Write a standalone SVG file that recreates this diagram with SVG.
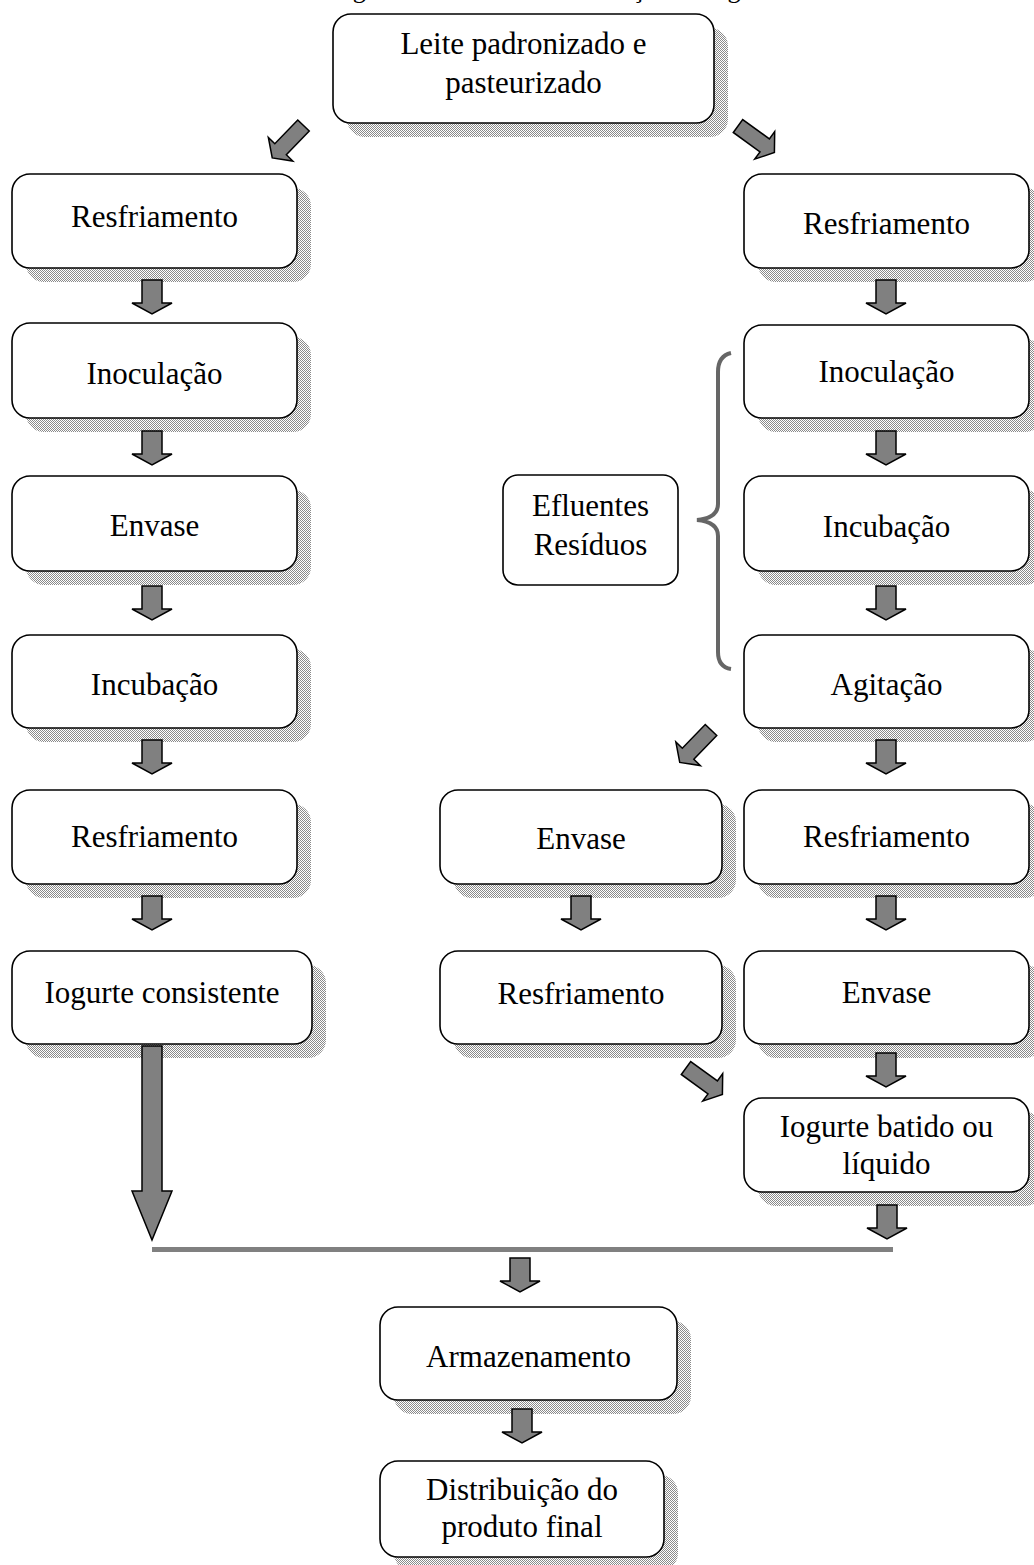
<svg xmlns="http://www.w3.org/2000/svg" width="1034" height="1565" viewBox="0 0 1034 1565">
<defs>
<pattern id="dots" width="2" height="2" patternUnits="userSpaceOnUse">
<rect width="2" height="2" fill="#ffffff"/>
<rect width="1" height="1" fill="#8a8a8a"/>
<rect x="1" y="1" width="1" height="1" fill="#8a8a8a"/>
</pattern>
<path id="down" d="M -10 0 H 10 V 23 H 20 L 0 34 L -20 23 H -10 Z"/>
<path id="diag" d="M -8 0 H 8 V 33 H 17 L 0 45 L -17 33 H -8 Z"/>
</defs>
<style>
.box{fill:#ffffff;stroke:#000000;stroke-width:1.6}
.shadow{fill:url(#dots);stroke:none}
.t{font-family:"Liberation Serif","Times New Roman",serif;font-size:31px;fill:#000000;text-anchor:middle}
.arr{fill:#808080;stroke:#000000;stroke-width:1.5;stroke-linejoin:miter}
</style>
<rect width="1034" height="1565" fill="#ffffff"/>

<text class="t" x="781" y="-2" style="text-anchor:end;font-size:26px">Figura 1 - Processo de Produção de Iogurte</text>

<g id="n-top"><rect class="shadow" x="347" y="28" width="381" height="109" rx="18"/><rect class="box" x="333" y="14" width="381" height="109" rx="18"/><text class="t" x="523.5" y="54">Leite padronizado e</text><text class="t" x="523.5" y="93">pasteurizado</text></g>

<g id="n-l1"><rect class="shadow" x="26" y="188" width="285" height="94" rx="18"/><rect class="box" x="12" y="174" width="285" height="94" rx="18"/><text class="t" x="154.5" y="227">Resfriamento</text></g>
<g id="n-l2"><rect class="shadow" x="26" y="337" width="285" height="95" rx="18"/><rect class="box" x="12" y="323" width="285" height="95" rx="18"/><text class="t" x="154.5" y="384">Inoculação</text></g>
<g id="n-l3"><rect class="shadow" x="26" y="490" width="285" height="95" rx="18"/><rect class="box" x="12" y="476" width="285" height="95" rx="18"/><text class="t" x="154.5" y="536">Envase</text></g>
<g id="n-l4"><rect class="shadow" x="26" y="649" width="285" height="93" rx="18"/><rect class="box" x="12" y="635" width="285" height="93" rx="18"/><text class="t" x="154.5" y="695">Incubação</text></g>
<g id="n-l5"><rect class="shadow" x="26" y="804" width="285" height="94" rx="18"/><rect class="box" x="12" y="790" width="285" height="94" rx="18"/><text class="t" x="154.5" y="847">Resfriamento</text></g>
<g id="n-l6"><rect class="shadow" x="26" y="965" width="300" height="93" rx="18"/><rect class="box" x="12" y="951" width="300" height="93" rx="18"/><text class="t" x="162" y="1003">Iogurte consistente</text></g>

<g id="n-r1"><rect class="shadow" x="758" y="188" width="285" height="94" rx="18"/><rect class="box" x="744" y="174" width="285" height="94" rx="18"/><text class="t" x="886.5" y="234">Resfriamento</text></g>
<g id="n-r2"><rect class="shadow" x="758" y="339" width="285" height="93" rx="18"/><rect class="box" x="744" y="325" width="285" height="93" rx="18"/><text class="t" x="886.5" y="382">Inoculação</text></g>
<g id="n-r3"><rect class="shadow" x="758" y="490" width="285" height="95" rx="18"/><rect class="box" x="744" y="476" width="285" height="95" rx="18"/><text class="t" x="886.5" y="537">Incubação</text></g>
<g id="n-r4"><rect class="shadow" x="758" y="649" width="285" height="93" rx="18"/><rect class="box" x="744" y="635" width="285" height="93" rx="18"/><text class="t" x="886.5" y="695">Agitação</text></g>
<g id="n-r5"><rect class="shadow" x="758" y="804" width="285" height="94" rx="18"/><rect class="box" x="744" y="790" width="285" height="94" rx="18"/><text class="t" x="886.5" y="847">Resfriamento</text></g>
<g id="n-r6"><rect class="shadow" x="758" y="965" width="285" height="93" rx="18"/><rect class="box" x="744" y="951" width="285" height="93" rx="18"/><text class="t" x="886.5" y="1003">Envase</text></g>
<g id="n-r7"><rect class="shadow" x="758" y="1112" width="285" height="94" rx="18"/><rect class="box" x="744" y="1098" width="285" height="94" rx="18"/><text class="t" x="886.5" y="1137">Iogurte batido ou</text><text class="t" x="886.5" y="1174">líquido</text></g>

<g id="n-m1"><rect class="shadow" x="454" y="804" width="282" height="94" rx="18"/><rect class="box" x="440" y="790" width="282" height="94" rx="18"/><text class="t" x="581" y="849">Envase</text></g>
<g id="n-m2"><rect class="shadow" x="454" y="965" width="282" height="93" rx="18"/><rect class="box" x="440" y="951" width="282" height="93" rx="18"/><text class="t" x="581" y="1004">Resfriamento</text></g>

<g id="n-efl"><rect class="box" x="503" y="475" width="175" height="110" rx="15"/><text class="t" x="590.5" y="516">Efluentes</text><text class="t" x="590.5" y="555">Resíduos</text></g>
<g id="brace"><path d="M 731 353 Q 718 356 718 372 V 504 Q 718 518 697 520 Q 718 522 718 536 V 652 Q 718 667 731 669" fill="none" stroke="#666666" stroke-width="4"/></g>

<g id="n-arm"><rect class="shadow" x="394" y="1321" width="297" height="93" rx="18"/><rect class="box" x="380" y="1307" width="297" height="93" rx="18"/><text class="t" x="528.5" y="1367">Armazenamento</text></g>
<g id="n-dist"><rect class="shadow" x="394" y="1475" width="284" height="96" rx="18"/><rect class="box" x="380" y="1461" width="284" height="96" rx="18"/><text class="t" x="522" y="1500">Distribuição do</text><text class="t" x="522" y="1537">produto final</text></g>

<g id="connectors">
<use href="#diag" class="arr" transform="translate(303.5,125.5) rotate(44)"/>
<use href="#diag" class="arr" transform="translate(738,126) rotate(-54)"/>
<use href="#diag" class="arr" transform="translate(711,730) rotate(44)"/>
<use href="#diag" class="arr" transform="translate(686,1068) rotate(-54)"/>

<use href="#down" class="arr" transform="translate(152,280)"/>
<use href="#down" class="arr" transform="translate(152,431)"/>
<use href="#down" class="arr" transform="translate(152,586)"/>
<use href="#down" class="arr" transform="translate(152,740)"/>
<use href="#down" class="arr" transform="translate(152,896)"/>

<use href="#down" class="arr" transform="translate(886,280)"/>
<use href="#down" class="arr" transform="translate(886,431)"/>
<use href="#down" class="arr" transform="translate(886,586)"/>
<use href="#down" class="arr" transform="translate(886,740)"/>
<use href="#down" class="arr" transform="translate(886,896)"/>
<use href="#down" class="arr" transform="translate(886,1053)"/>
<use href="#down" class="arr" transform="translate(887,1205)"/>

<use href="#down" class="arr" transform="translate(581,896)"/>

<path class="arr" d="M 142 1046 H 162 V 1191 H 172 L 152 1240 L 132 1191 H 142 Z"/>
<rect x="152" y="1247" width="741" height="5" fill="#808080"/>

<use href="#down" class="arr" transform="translate(520,1258)"/>
<use href="#down" class="arr" transform="translate(522,1409)"/>
</g>
</svg>
